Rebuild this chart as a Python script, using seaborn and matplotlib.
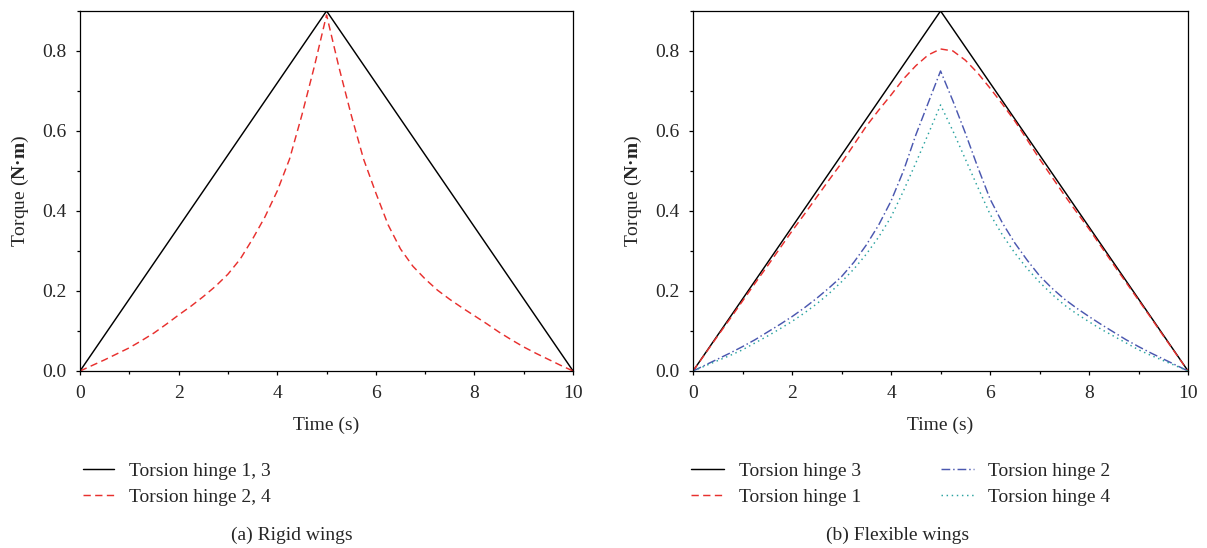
import matplotlib
matplotlib.use("Agg")
import matplotlib.pyplot as plt
import seaborn as sns
from matplotlib.ticker import MultipleLocator

# Linear hinges: ramp up to the peak at t = 5 s and back down
time_peak = [0, 5, 10]
rigid_hinge_13 = [0, 0.9, 0]
flex_hinge_3 = [0, 0.9, 0]

# Sampled torque curves (s, N·m), every 0.25 s
time_curve = [0, 0.25, 0.5, 0.75, 1, 1.25, 1.5, 1.75, 2, 2.25, 2.5, 2.75, 3, 3.25, 3.5, 3.75,
              4, 4.25, 4.5, 4.75, 5, 5.25, 5.5, 5.75, 6, 6.25, 6.5, 6.75, 7, 7.25, 7.5, 7.75,
              8, 8.25, 8.5, 8.75, 9, 9.25, 9.5, 9.75, 10]
rigid_hinge_24 = [0, 0.014, 0.028, 0.043, 0.058, 0.076, 0.095, 0.117, 0.14, 0.162, 0.186, 0.212,
                  0.242, 0.28, 0.33, 0.385, 0.45, 0.53, 0.64, 0.76, 0.89, 0.76, 0.64, 0.53,
                  0.445, 0.365, 0.305, 0.262, 0.23, 0.202, 0.179, 0.158, 0.138, 0.118, 0.097,
                  0.078, 0.06, 0.044, 0.029, 0.014, 0]
flex_hinge_1 = [0, 0.044, 0.088, 0.131, 0.175, 0.219, 0.262, 0.306, 0.35, 0.392, 0.435, 0.478,
                0.52, 0.566, 0.612, 0.652, 0.69, 0.73, 0.763, 0.79, 0.805, 0.8, 0.777, 0.745,
                0.707, 0.667, 0.625, 0.578, 0.53, 0.485, 0.44, 0.397, 0.355, 0.31, 0.265,
                0.221, 0.177, 0.133, 0.088, 0.044, 0]
flex_hinge_2 = [0, 0.015, 0.03, 0.045, 0.061, 0.078, 0.097, 0.116, 0.136, 0.158, 0.182, 0.208,
                0.236, 0.272, 0.315, 0.365, 0.425, 0.5, 0.59, 0.67, 0.75, 0.675, 0.595, 0.51,
                0.43, 0.37, 0.32, 0.277, 0.238, 0.207, 0.18, 0.157, 0.136, 0.116, 0.097,
                0.078, 0.061, 0.045, 0.03, 0.015, 0]
flex_hinge_4 = [0, 0.013, 0.026, 0.039, 0.053, 0.07, 0.087, 0.105, 0.124, 0.145, 0.168, 0.194,
                0.223, 0.255, 0.292, 0.335, 0.385, 0.45, 0.52, 0.592, 0.665, 0.6, 0.53, 0.46,
                0.392, 0.34, 0.295, 0.256, 0.222, 0.192, 0.165, 0.143, 0.123, 0.104, 0.087,
                0.07, 0.053, 0.039, 0.026, 0.013, 0]

x_ticks = [0, 2, 4, 6, 8, 10]
y_ticks = [0.0, 0.2, 0.4, 0.6, 0.8]

sns.set_style("ticks")
plt.rcParams["font.family"] = ["Liberation Serif", "DejaVu Serif"]
plt.rcParams["mathtext.fontset"] = "custom"
plt.rcParams["mathtext.rm"] = "Liberation Serif"
plt.rcParams["mathtext.bf"] = "Liberation Serif:bold"
FS = 14
plt.rcParams["font.size"] = FS

RED = "#e8302e"
BLUE = "#4b58b0"
TEAL = "#2aa3a0"
LW = 1.05

fig = plt.figure(figsize=(12.07, 5.48), dpi=100)
ax_a = fig.add_axes([0.0663, 0.323, 0.4085, 0.657])
ax_b = fig.add_axes([0.5742, 0.323, 0.4101, 0.657])

sns.lineplot(x=time_peak, y=rigid_hinge_13, ax=ax_a, color="black", lw=LW,
             label="Torsion hinge 1, 3")
sns.lineplot(x=time_curve, y=rigid_hinge_24, ax=ax_a, color=RED, lw=LW,
             linestyle=(0, (5, 3)), label="Torsion hinge 2, 4")

sns.lineplot(x=time_peak, y=flex_hinge_3, ax=ax_b, color="black", lw=LW,
             label="Torsion hinge 3")
sns.lineplot(x=time_curve, y=flex_hinge_1, ax=ax_b, color=RED, lw=LW,
             linestyle=(0, (5, 3)), label="Torsion hinge 1")
sns.lineplot(x=time_curve, y=flex_hinge_2, ax=ax_b, color=BLUE, lw=LW,
             linestyle=(0, (6, 2, 1, 2)), label="Torsion hinge 2")
sns.lineplot(x=time_curve, y=flex_hinge_4, ax=ax_b, color=TEAL, lw=LW,
             linestyle=(0, (1, 2.5)), label="Torsion hinge 4")

for ax in (ax_a, ax_b):
    if ax.get_legend() is not None:
        ax.get_legend().remove()
    ax.set_xlim(0, 10)
    ax.set_ylim(0, 0.9)
    ax.set_xticks(x_ticks)
    ax.set_yticks(y_ticks)
    ax.set_xticklabels([str(v) for v in x_ticks])
    ax.set_yticklabels([f"{v:.1f}" for v in y_ticks])
    ax.xaxis.set_minor_locator(MultipleLocator(1))
    ax.yaxis.set_minor_locator(MultipleLocator(0.1))
    ax.tick_params(which="major", direction="out", length=3, width=0.9,
                   labelsize=FS, color="black")
    ax.tick_params(axis="x", which="major", pad=7)
    ax.tick_params(axis="y", which="major", pad=7)
    ax.tick_params(which="minor", direction="out", length=2, width=0.9, color="black")
    for sp in ax.spines.values():
        sp.set_visible(True)
        sp.set_linewidth(0.9)
        sp.set_color("black")
    ax.set_xlabel("Time (s)", fontsize=FS, labelpad=11)
    ax.set_ylabel("Torque ($\\mathbf{N·m}$)", fontsize=FS, labelpad=8)

h_a, l_a = ax_a.get_legend_handles_labels()
fig.legend(h_a, l_a, loc="upper left", bbox_to_anchor=(83 / 1207, 1 - 462 / 548),
           frameon=False, borderpad=0, borderaxespad=0, handlelength=1.6,
           handletextpad=0.75, labelspacing=0.45, fontsize=FS)

h_b, l_b = ax_b.get_legend_handles_labels()
fig.legend(h_b, l_b, loc="upper left", bbox_to_anchor=(691 / 1207, 1 - 462 / 548),
           frameon=False, borderpad=0, borderaxespad=0, handlelength=1.7,
           handletextpad=0.75, labelspacing=0.45, ncol=2, columnspacing=4.1,
           fontsize=FS)

fig.text(292 / 1207, 1 - 535 / 548, "(a) Rigid wings", ha="center", va="center", fontsize=FS)
fig.text(898 / 1207, 1 - 535 / 548, "(b) Flexible wings", ha="center", va="center", fontsize=FS)

fig.savefig("out.png", dpi=100)
